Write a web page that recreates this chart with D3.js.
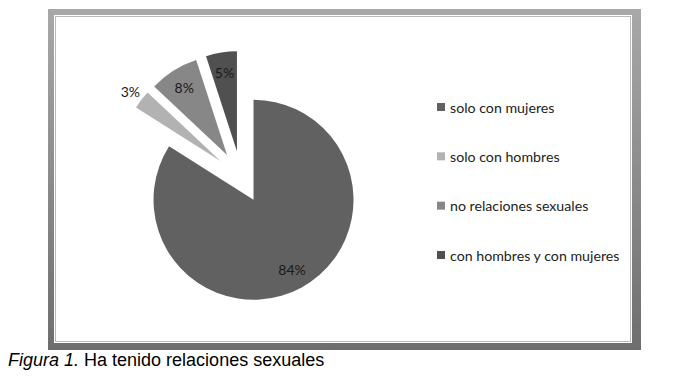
<!DOCTYPE html>
<html>
<head>
<meta charset="utf-8">
<script src="https://cdn.jsdelivr.net/npm/d3@7"></script>
<style>
  html, body { margin: 0; padding: 0; background: #fff; }
  svg { display: block; }
</style>
</head>
<body>
<svg id="chart" width="674" height="380"></svg>
<script>
const categories = ["solo con mujeres", "solo con hombres", "no relaciones sexuales", "con hombres y con mujeres"];
const values = [84, 3, 8, 5];
const labels = ["84%", "3%", "8%", "5%"];
const colors = ["#616161", "#b2b2b2", "#878787", "#505050"];
const captionItalic = "Figura 1.";
const captionText = " Ha tenido relaciones sexuales";

const svg = d3.select("#chart");
const defs = svg.append("defs");
const grad = defs.append("linearGradient").attr("id", "frameGrad")
  .attr("x1", 0).attr("y1", 0).attr("x2", 0).attr("y2", 1);
grad.append("stop").attr("offset", "0%").attr("stop-color", "#a8a8a8");
grad.append("stop").attr("offset", "100%").attr("stop-color", "#6e6e6e");

// frame
svg.append("rect").attr("x", 48).attr("y", 9).attr("width", 593).attr("height", 341)
  .attr("fill", "url(#frameGrad)");
svg.append("rect").attr("x", 54).attr("y", 15).attr("width", 578).attr("height", 328)
  .attr("fill", "#ffffff");
svg.append("rect").attr("x", 55.5).attr("y", 16.5).attr("width", 575).attr("height", 325)
  .attr("fill", "none").attr("stroke", "#b8b8b8").attr("stroke-width", 1);

// pie
const cx = 241, cy = 177, r = 100, explode = 26;
const pie = d3.pie().sort(null).value(d => d)(values);
const arc = d3.arc().innerRadius(0).outerRadius(r);
const g = svg.append("g").attr("transform", `translate(${cx},${cy})`);

pie.forEach((p, i) => {
  const mid = (p.startAngle + p.endAngle) / 2;
  const ox = Math.sin(mid) * explode, oy = -Math.cos(mid) * explode;
  const sg = g.append("g").attr("transform", `translate(${ox},${oy})`);
  sg.append("path").attr("d", arc(p)).attr("fill", colors[i]);
  const share = p.value / d3.sum(values);
  const lr = share < 0.05 ? r * 1.14 : r * 0.8;
  sg.append("text")
    .attr("x", Math.sin(mid) * lr)
    .attr("y", -Math.cos(mid) * lr)
    .attr("text-anchor", "middle")
    .attr("dominant-baseline", "central")
    .attr("font-family", "Lato, 'Open Sans', sans-serif")
    .attr("font-size", 14)
    .attr("fill", "#1a1a1a")
    .text(labels[i]);
});

// legend
const ly = d3.scalePoint().domain(categories).range([107, 255]);
const leg = svg.append("g");
categories.forEach((c, i) => {
  leg.append("rect").attr("x", 437).attr("y", ly(c) - 4).attr("width", 8).attr("height", 8)
    .attr("fill", colors[i]);
  leg.append("text").attr("x", 450).attr("y", ly(c))
    .attr("dominant-baseline", "central")
    .attr("font-family", "Lato, 'Open Sans', sans-serif")
    .attr("font-size", 14.2)
    .attr("fill", "#222")
    .text(c);
});

// caption
const cap = svg.append("text").attr("x", 8).attr("y", 366)
  .attr("font-family", "'Liberation Sans', Arial, sans-serif")
  .attr("font-size", 18).attr("fill", "#000");
cap.append("tspan").attr("font-style", "italic").text(captionItalic);
cap.append("tspan").text(captionText);
</script>
</body>
</html>
